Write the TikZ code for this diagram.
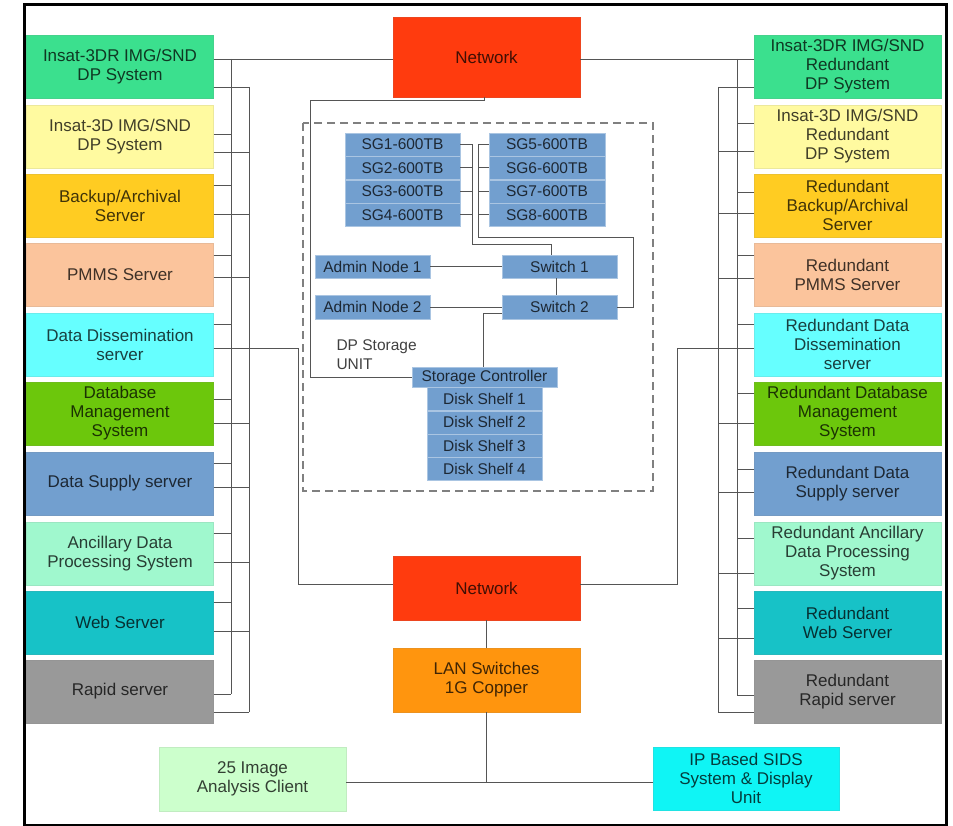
\documentclass[tikz,border=0pt]{standalone}
\usepackage{fontspec}
\setmainfont{Liberation Sans}
\usetikzlibrary{positioning}

\definecolor{cdr}{HTML}{3BE08E}
\definecolor{cd}{HTML}{FFFAA0}
\definecolor{cbak}{HTML}{FFCC22}
\definecolor{cpmms}{HTML}{FBC49C}
\definecolor{cdiss}{HTML}{66FFFF}
\definecolor{cdb}{HTML}{6CC70C}
\definecolor{csup}{HTML}{729FCF}
\definecolor{canc}{HTML}{A0F8CE}
\definecolor{cweb}{HTML}{17C2C7}
\definecolor{crap}{HTML}{999999}
\definecolor{cnet}{HTML}{FF3B0E}
\definecolor{clan}{HTML}{FF950E}
\definecolor{cimg}{HTML}{CCFFCC}
\definecolor{cip}{HTML}{0FF5F5}
\definecolor{wirec}{HTML}{555555}

\begin{document}
\begin{tikzpicture}[x=1pt,y=-1pt,
	srv/.style={fill=#1,draw=#1!85!gray,text=#1!25!black,align=center,
		minimum width=187pt,minimum height=63pt,inner sep=0pt,
		font=\fontsize{17}{19}\selectfont},
	stg/.style={fill=csup,draw=csup!60!white,text=csup!25!black,
		minimum width=115pt,minimum height=23pt,inner sep=0pt,
		font=\fontsize{15.5}{17}\selectfont},
	wire/.style={draw=wirec,line width=0.8pt}]
	\useasboundingbox (0,0) rectangle (953,826);
	\draw[line width=3pt] (24.5,5) rectangle (946.5,825);

	% side columns
	\foreach \n/\y/\c/\t in {1/66.5/cdr/{Insat-3DR IMG/SND\\DP System},2/136.5/cd/{Insat-3D IMG/SND\\DP System},3/205.5/cbak/{Backup/Archival\\Server},4/274.5/cpmms/{PMMS Server},5/344.5/cdiss/{Data Dissemination\\server},6/413.5/cdb/{Database\\Management\\System},7/483.5/csup/{Data Supply server},8/553.5/canc/{Ancillary Data\\Processing System},9/622.5/cweb/{Web Server},10/691.5/crap/{Rapid server}}
		\node[srv=\c] (l\n) at (120,\y) {\t};
	\foreach \n/\y/\c/\t in {1/66.5/cdr/{Insat-3DR IMG/SND\\Redundant\\DP System},2/136.5/cd/{Insat-3D IMG/SND\\Redundant\\DP System},3/205.5/cbak/{Redundant\\Backup/Archival\\Server},4/274.5/cpmms/{Redundant\\PMMS Server},5/344.5/cdiss/{Redundant Data\\Dissemination\\server},6/413.5/cdb/{Redundant Database\\Management\\System},7/483.5/csup/{Redundant Data\\Supply server},8/553.5/canc/{Redundant Ancillary\\Data Processing\\System},9/622.5/cweb/{Redundant\\Web Server},10/691.5/crap/{Redundant\\Rapid server}}
		\node[srv=\c] (r\n) at (847.5,\y) {\t};

	\node[srv=cnet,minimum height=80pt] (nettop) at (486.5,57) {Network};
	\node[srv=cnet,minimum height=64pt] (netbot) at (486.5,588) {Network};
	\node[srv=clan,minimum height=64pt] (lan) at (486.5,680) {LAN Switches\\1G Copper};
	\node[srv=cimg,minimum height=64pt] (img) at (252.5,779) {25 Image\\Analysis Client};
	\node[srv=cip,minimum width=186pt] (ip) at (746,778.5) {IP Based SIDS\\System \& Display\\Unit};

	% storage unit
	\draw[dashed,dash pattern=on 8pt off 5pt,draw=gray,line width=1.2pt] (303,123) rectangle (653,491);
	\node[stg] (sg1) at (402.5,144.5) {SG1-600TB};
	\node[stg,minimum width=116pt] (sg5) at (547,144.5) {SG5-600TB};
	\foreach \p/\n in {1/2,2/3,3/4} \node[stg,below=0pt of sg\p] (sg\n) {SG\n-600TB};
	\foreach \p/\n in {5/6,6/7,7/8} \node[stg,minimum width=116pt,below=0pt of sg\p] (sg\n) {SG\n-600TB};
	\node[stg] (adm1) at (372.5,266.5) {Admin Node 1};
	\node[stg] (sw1) at (559.5,266.5) {Switch 1};
	\node[stg,minimum height=24pt] (adm2) at (372.5,307) {Admin Node 2};
	\node[stg,minimum height=24pt] (sw2) at (559.5,307) {Switch 2};
	\node[stg,minimum width=145pt,minimum height=20pt] (ctrl) at (484.5,377) {Storage Controller};
	\node[stg,below=0pt of ctrl] (ds1) {Disk Shelf 1};
	\foreach \p/\n in {1/2,2/3,3/4} \node[stg,below=0pt of ds\p] (ds\n) {Disk Shelf \n};
	\node[anchor=north west,align=left,text=black!75,font=\fontsize{15.5}{19}\selectfont] (unit) at (333,336) {DP Storage\\UNIT};

	\foreach \n in {1,...,4} \draw[wire] (sg\n.east) -- (sg\n.east -| 472,0);
	\foreach \n in {5,...,8} \draw[wire] (sg\n.west) -- (sg\n.west -| 478,0);
	\draw[wire] (sg1.east -| 472,0) |- (551,244) -- (sw1.north -| 551,0);
	\draw[wire] (sg5.west -| 478,0) |- (633,237) |- (sw2.east);
	\draw[wire] (adm1.east) -- (sw1.west);
	\draw[wire] (adm2.east) -- (sw2.west);
	\draw[wire] (sw1.south -| 556,0) -- (sw2.north -| 556,0);
	\draw[wire] ([yshift=-6pt]sw2.west) -| (ctrl.north -| 483,0);
	\coordinate (ctrlbend) at (310,377);
	\draw[wire] ([xshift=-2pt]nettop.south) -- ++(0,3) -| (ctrlbend) -- (ctrl.west);

	% buses
	\draw[wire] (231,59) -- (231,694);
	\draw[wire] (249,87) -- (249,712);
	\draw[wire] (737,59) -- (737,695);
	\draw[wire] (718,87) -- (718,712);
	\foreach \n/\a/\b in {1/59/87,2/134/152,3/185/214,4/255/277,5/324/348,6/399/423,7/463/487,8/533/562,9/602/631,10/694/712} {
		\draw[wire] (l\n.east |- 0,\a) -- (231,\a);
		\draw[wire] (l\n.east |- 0,\b) -- (249,\b);}
	\foreach \n/\a/\b in {1/59/87,2/123/151,3/192/213,4/255/278,5/324/348,6/393/423,7/469/492,8/538/573,9/608/638,10/695/712} {
		\draw[wire] (r\n.west |- 0,\a) -- (737,\a);
		\draw[wire] (r\n.west |- 0,\b) -- (718,\b);}
	\draw[wire] (l1.east |- 0,59) -- (nettop.west |- 0,59);
	\draw[wire] (nettop.east |- 0,59) -- (r1.west |- 0,59);
	\draw[wire] (l5.east |- 0,348) -| (298,584) -- (netbot.west |- 0,584);
	\draw[wire] (r5.west |- 0,348) -| (677,584) -- (netbot.east |- 0,584);
	\draw[wire] (netbot.south) -- (lan.north);
	\draw[wire] (lan.south) -- (lan.south |- 0,782);
	\draw[wire] (img.east |- 0,782) -- (ip.west |- 0,782);
\end{tikzpicture}
\end{document}
